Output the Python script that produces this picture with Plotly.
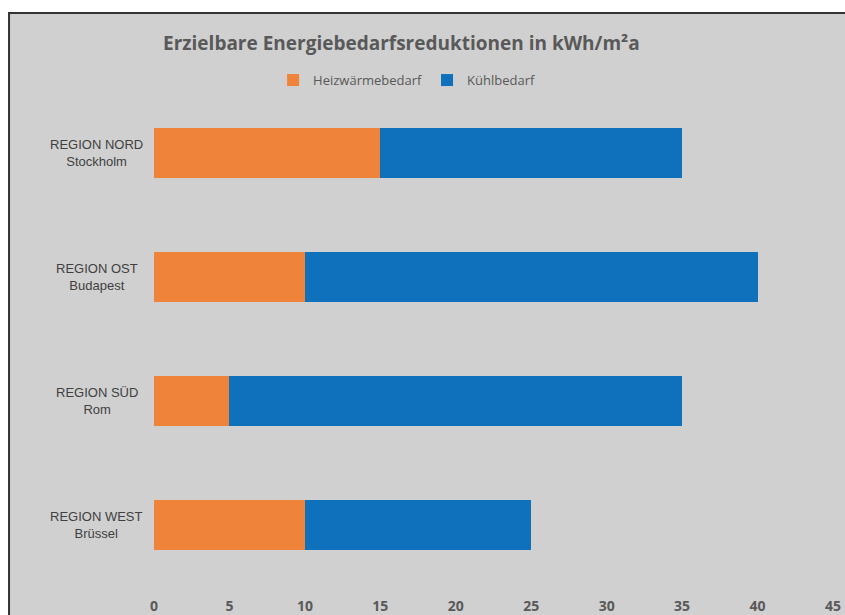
import plotly.graph_objects as go

# Regions (top to bottom) and their reference city
regions = ["REGION NORD", "REGION OST", "REGION SÜD", "REGION WEST"]
cities = ["Stockholm", "Budapest", "Rom", "Brüssel"]

# Achievable reductions in kWh/m²a
heizwaerme = [15, 10, 5, 10]
kuehl = [20, 30, 30, 15]

x_ticks = [0, 5, 10, 15, 20, 25, 30, 35, 40, 45]

ORANGE = "#F0833A"
BLUE = "#0F71BB"
BG = "#D0D0D0"
TXT = "#595959"

fig = go.Figure()
fig.add_trace(go.Bar(
    y=regions, x=heizwaerme, orientation="h", name="Heizwärmebedarf",
    marker=dict(color=ORANGE, line=dict(width=0)),
))
fig.add_trace(go.Bar(
    y=regions, x=kuehl, orientation="h", name="Kühlbedarf",
    marker=dict(color=BLUE, line=dict(width=0)),
))

# Two-line, centred category labels
for reg, city in zip(regions, cities):
    fig.add_annotation(
        x=-0.084, xref="paper", y=reg, yref="y",
        text=f"{reg}<br>{city}", showarrow=False, align="center",
        xanchor="center", yanchor="middle",
        font=dict(family="Liberation Sans Narrow, Arial Narrow, Liberation Sans", size=13, color="#404040"),
    )

# Chart frame with grey fill
fig.add_shape(
    type="rect", xref="paper", yref="paper", layer="below",
    x0=-0.2135, x1=1.5, y0=-0.3, y1=1.1573,
    fillcolor=BG, line=dict(color="#333333", width=2),
)

fig.update_layout(
    width=845, height=615,
    margin=dict(l=154, r=12, t=91, b=28, autoexpand=False),
    paper_bgcolor="white", plot_bgcolor=BG,
    barmode="stack", bargap=0.6,
    title=dict(
        text="Erzielbare Energiebedarfsreduktionen in kWh/m²a",
        x=0.475, xanchor="center", y=0.93, yanchor="middle",
        font=dict(family="Open Sans", size=19, color=TXT, weight="bold"),
    ),
    legend=dict(
        orientation="h", x=0.372, xanchor="center", y=1.022, yanchor="middle",
        font=dict(family="Open Sans", size=13, color=TXT),
        bgcolor="rgba(0,0,0,0)", itemwidth=30, traceorder="normal",
    ),
    xaxis=dict(
        range=[0, 45], tickvals=x_ticks, showgrid=False, zeroline=False,
        showline=False, ticks="outside", ticklen=6, tickcolor=BG,
        tickfont=dict(family="Open Sans", size=14, color=TXT, weight="bold"),
        fixedrange=True, automargin=False,
    ),
    yaxis=dict(
        categoryorder="array", categoryarray=regions[::-1],
        showticklabels=False, showgrid=False, zeroline=False, showline=False,
        fixedrange=True, automargin=False,
    ),
)

fig.write_html("out.html", config={"displayModeBar": False})
